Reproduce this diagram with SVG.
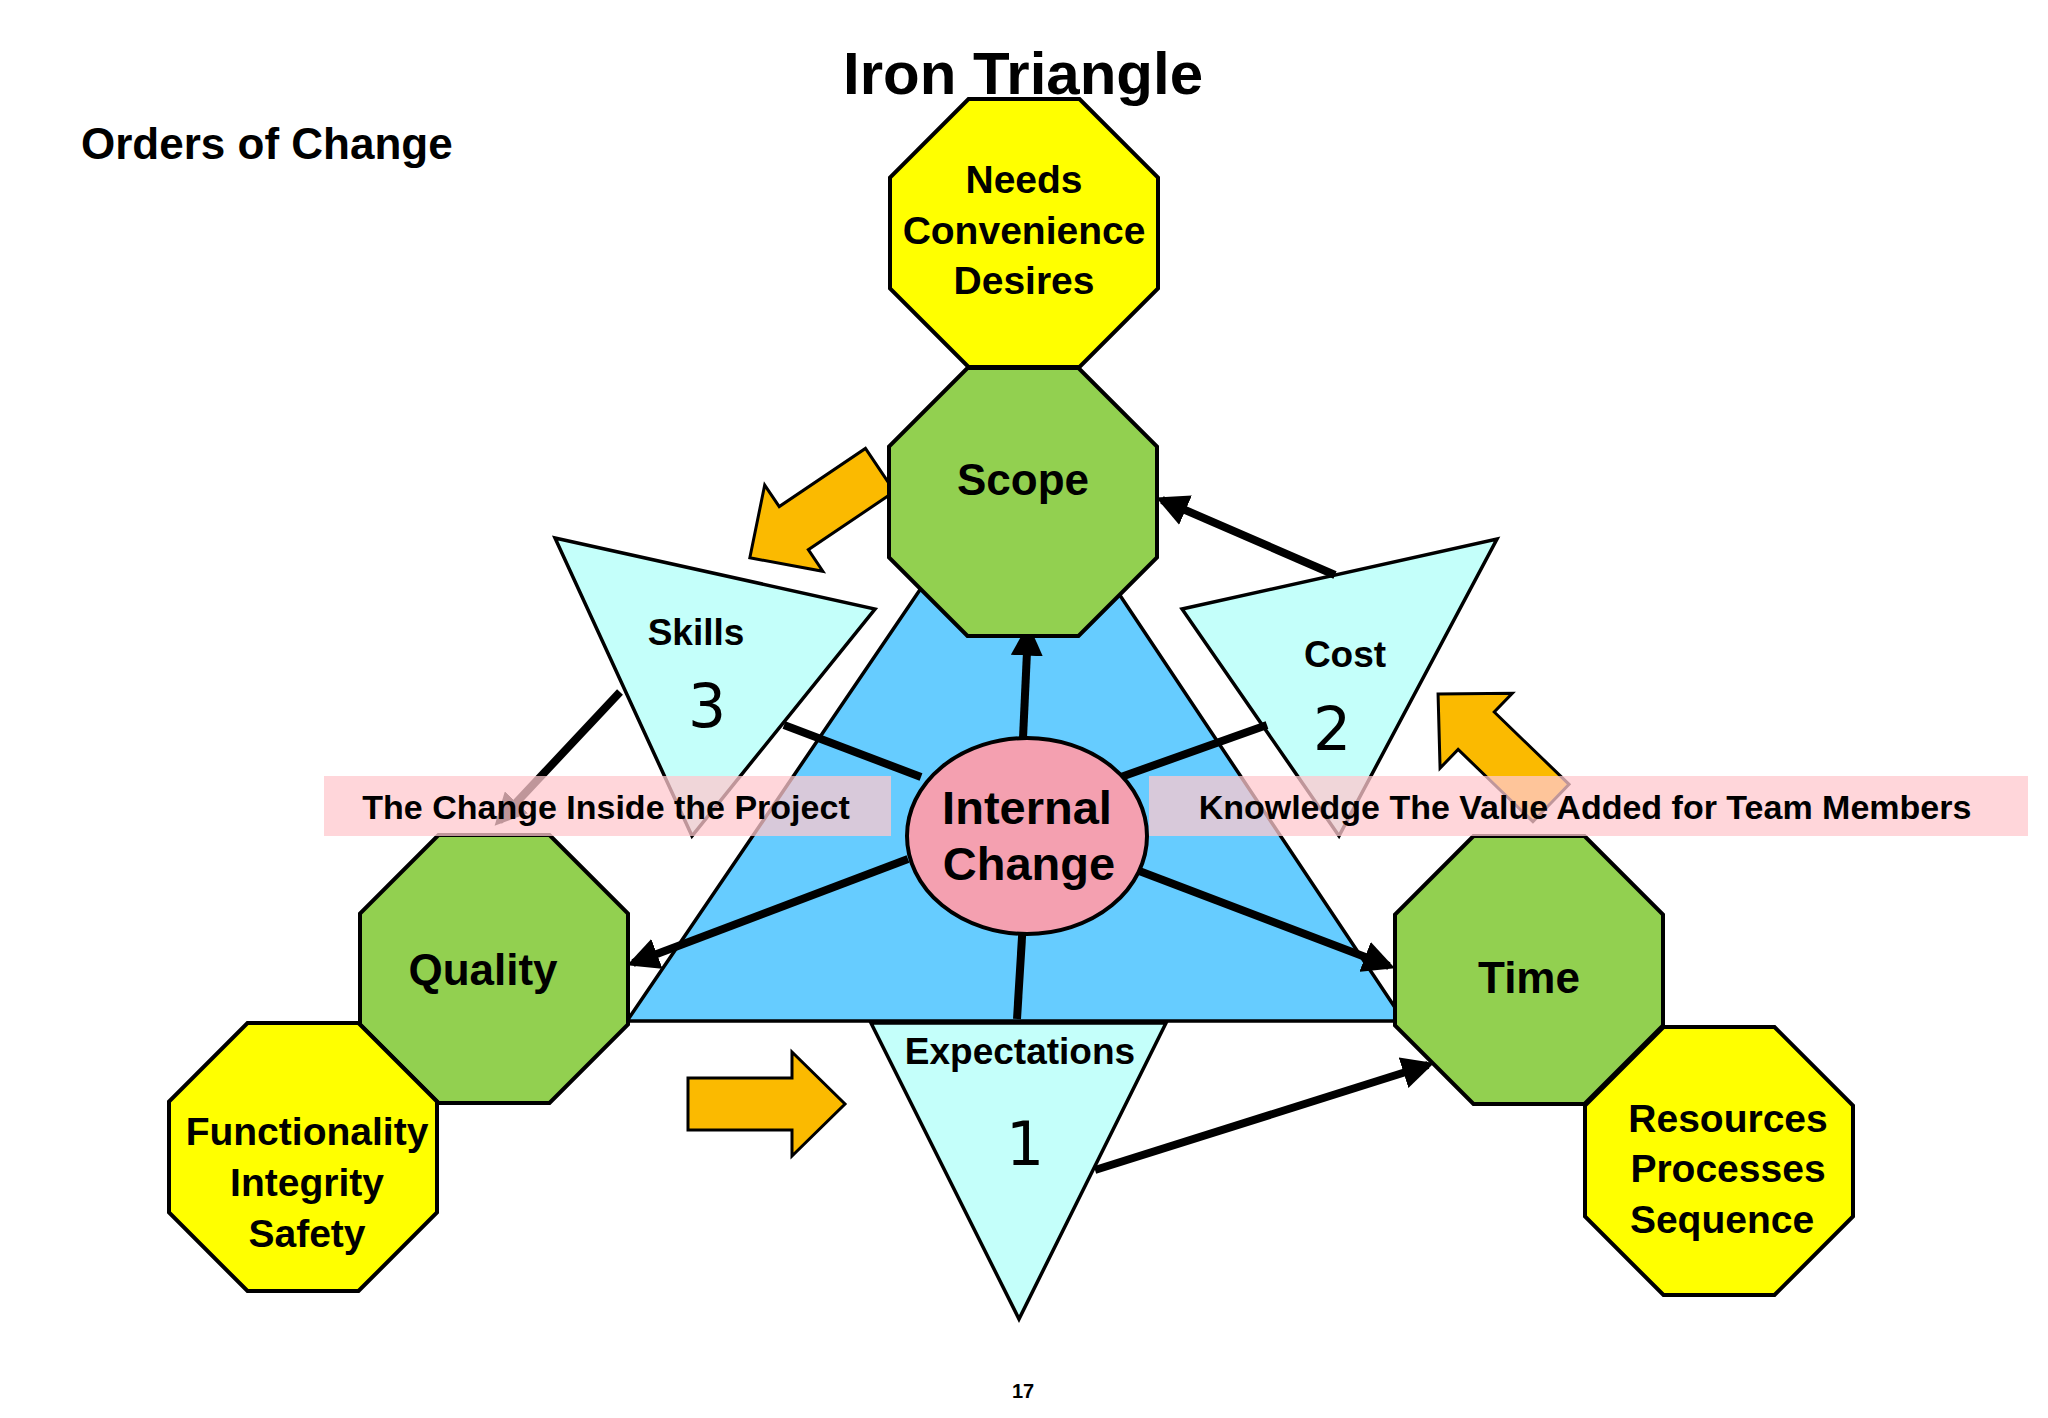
<svg xmlns="http://www.w3.org/2000/svg" width="2048" height="1418" viewBox="0 0 2048 1418">
<style>
text{font-family:"Liberation Sans",Arial,sans-serif;font-weight:bold;fill:#000;text-anchor:middle}
.oct{stroke:#000;stroke-width:4}
.g{fill:#92D050}.y{fill:#FFFF00}
.tri{fill:#C4FFFA;stroke:#000;stroke-width:3.5}
.ln{stroke:#000;stroke-width:8;fill:none}
.num{font-family:"DejaVu Sans",sans-serif;font-weight:normal;font-size:60px}
.lbl{fill:#FFC8CE;fill-opacity:0.75}
</style>
<defs>
<marker id="ah" viewBox="0 0 10 10" refX="8" refY="5" markerWidth="4" markerHeight="4" orient="auto"><path d="M0,0L10,5L0,10z" fill="#000"/></marker>
<polygon id="oct" points="-55.5,-134 55.5,-134 134,-55.5 134,55.5 55.5,134 -55.5,134 -134,55.5 -134,-55.5"/>
<polygon id="barr" points="0,-26 104,-26 104,-52 157,0 104,52 104,26 0,26" fill="#FBBA00" stroke="#000" stroke-width="3"/>
</defs>
<rect width="2048" height="1418" fill="#fff"/>
<text x="1023" y="94" font-size="60">Iron Triangle</text>
<text x="81" y="159" font-size="44" style="text-anchor:start">Orders of Change</text>
<g id="triangles">
<polygon class="tri" points="555,538 875,609 692,836"/>
<polygon class="tri" points="1182,609 1497,539 1339,836"/>
<polygon points="627,1021 1404,1021 1019,444" fill="#66CCFF" stroke="#000" stroke-width="3.5"/>
<polygon class="tri" points="871,1023 1166,1023 1019,1319"/>
</g>
<g id="orange-arrows">
<use href="#barr" transform="translate(688,1104)"/>
<use href="#barr" transform="translate(880,470) rotate(146)"/>
<use href="#barr" transform="translate(1551,803) rotate(224)"/>
</g>
<g id="connectors">
<line class="ln" x1="1023" y1="738" x2="1028" y2="630" marker-end="url(#ah)"/>
<line class="ln" x1="908" y1="859" x2="633" y2="963" marker-end="url(#ah)"/>
<line class="ln" x1="1134" y1="869" x2="1389" y2="966" marker-end="url(#ah)"/>
<line class="ln" x1="1023" y1="921" x2="1017" y2="1019"/>
<line class="ln" x1="921" y1="777" x2="784" y2="725"/>
<line class="ln" x1="1121" y1="777" x2="1267" y2="725"/>
<line class="ln" x1="620" y1="692" x2="499" y2="821" marker-end="url(#ah)"/>
<line class="ln" x1="1335" y1="575" x2="1162" y2="500" marker-end="url(#ah)"/>
<line class="ln" x1="1095" y1="1170" x2="1428" y2="1065" marker-end="url(#ah)"/>
</g>
<g id="needs"><use href="#oct" class="oct y" transform="translate(1024,233)"/>
<text font-size="39" x="1024" y="193">Needs</text><text font-size="39" x="1024" y="244">Convenience</text><text font-size="39" x="1024" y="294">Desires</text></g>
<g id="scope"><use href="#oct" class="oct g" transform="translate(1023,502)"/><text font-size="44" x="1023" y="495">Scope</text></g>
<g id="quality"><use href="#oct" class="oct g" transform="translate(494,969)"/><text font-size="44" x="483" y="985">Quality</text></g>
<g id="time"><use href="#oct" class="oct g" transform="translate(1529,970)"/><text font-size="44" x="1529" y="993">Time</text></g>
<g id="functionality"><use href="#oct" class="oct y" transform="translate(303,1157)"/>
<text font-size="39" x="307" y="1145">Functionality</text><text font-size="39" x="307" y="1196">Integrity</text><text font-size="39" x="307" y="1247">Safety</text></g>
<g id="resources"><use href="#oct" class="oct y" transform="translate(1719,1161)"/>
<text font-size="39" x="1728" y="1132">Resources</text><text font-size="39" x="1728" y="1182">Processes</text><text font-size="39" x="1722" y="1233">Sequence</text></g>
<g id="skills"><text font-size="37" x="696" y="645">Skills</text><text class="num" x="707" y="727">3</text></g>
<g id="cost"><text font-size="37" x="1345" y="667">Cost</text><text class="num" x="1332" y="750">2</text></g>
<g id="expectations"><text font-size="37" x="1020" y="1064">Expectations</text><text class="num" x="1025" y="1165">1</text></g>
<g id="internal"><ellipse cx="1027" cy="836" rx="120" ry="98" fill="#F4A0B0" stroke="#000" stroke-width="4"/>
<text font-size="47" x="1027" y="824">Internal</text><text font-size="47" x="1029" y="880">Change</text></g>
<g id="labels">
<rect class="lbl" x="324" y="776" width="567" height="60"/>
<text font-size="34" x="606" y="819">The Change Inside the Project</text>
<rect class="lbl" x="1149" y="776" width="879" height="60"/>
<text font-size="34" x="1585" y="819">Knowledge The Value Added for Team Members</text>
</g>
<text font-size="20" x="1023" y="1398">17</text>
</svg>
